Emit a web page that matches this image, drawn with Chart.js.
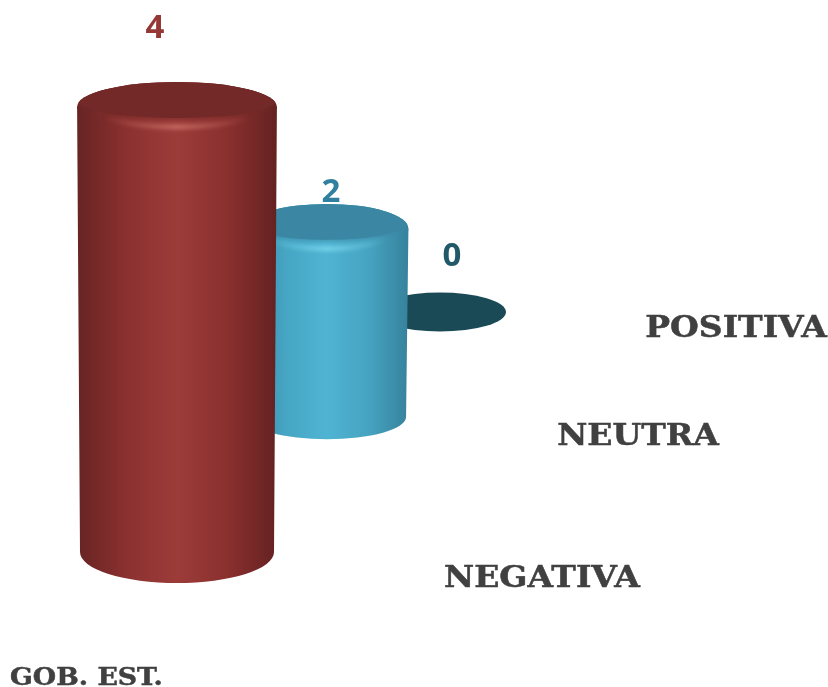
<!DOCTYPE html>
<html lang="es">
<head>
<meta charset="utf-8">
<title>GOB. EST.</title>
<script src="https://cdn.jsdelivr.net/npm/chart.js@4/dist/chart.umd.min.js"></script>
<style>
    html, body { margin: 0; padding: 0; background: #fff; overflow: hidden; }
    #wrap { width: 828px; height: 687px; }
</style>
</head>
<body>
<div id="wrap"><canvas id="cylinderChart" width="828" height="687"></canvas></div>
<script>
// ========================================
// DATA
// ========================================

const groupLabel = 'GOB. EST.';
const categories = ['NEGATIVA', 'NEUTRA', 'POSITIVA'];
const seriesValues = [4, 2, 0];

// ========================================
// 3D LOOK (one entry per depth row, front to back)
// ========================================

const depthShiftX = [0, -44, -125];
const depthShiftY = [0, -135, -240];
const depthWidth = [1, 0.815, 0.68];
const depthHeight = [1, 0.83, 0.7];
const baseRatio = [0.32, 0.28, 0.295];
const topRatio = [0.32, 0.39, 0.295];

const bodyColors = [
    ['#662423', '#8b3130', '#9c3c39', '#8a302f', '#642221'],
    ['#3a8aa6', '#46a6c4', '#4fb4d2', '#46a4c2', '#37829c'],
    ['#1b4a57', '#1b4a57', '#1b4a57', '#1b4a57', '#1b4a57']
];
const capColors = ['#722927', '#3a86a3', '#1b4a57'];
const glowColors = ['rgba(215,125,115,', 'rgba(135,225,245,', 'rgba(0,0,0,'];

const valueColors = ['#953735', '#31809f', '#215968'];
const valueOffsetX = [-22, 4, 12];
const valueOffsetY = [-75, -33, -46];
const labelOffsetX = [365, 311, 296];
const labelOffsetY = [35, 28, 25];

// ========================================
// CYLINDER DRAWING
// ========================================

function bodyGradient(ctx, cx, rx, colors) {
    const g = ctx.createLinearGradient(cx - rx, 0, cx + rx, 0);
    colors.forEach((c, i) => g.addColorStop(i / (colors.length - 1), c));
    return g;
}

function drawCylinder(ctx, cx, top, base, rx, ryTop, ryBase, i) {
    // value 0: only the flat disc is left
    if (base - top < 1) {
        ctx.fillStyle = capColors[i];
        ctx.beginPath();
        ctx.ellipse(cx, base, rx, ryBase, 0, 0, Math.PI * 2);
        ctx.fill();
        return;
    }

    const rimRx = rx * 1.03;
    const rimRy = ryTop * 0.8;
    const rimY = top - ryTop + rimRy;
    const wall = bodyGradient(ctx, cx, rimRx, bodyColors[i]);

    // side wall, very slightly tapered towards the base
    ctx.fillStyle = wall;
    ctx.beginPath();
    ctx.moveTo(cx - rimRx, rimY);
    ctx.lineTo(cx - rx, base);
    ctx.ellipse(cx, base, rx, ryBase, 0, Math.PI, 0, true);
    ctx.lineTo(cx + rimRx, rimY);
    ctx.closePath();
    ctx.fill();

    // bevelled rim
    ctx.save();
    ctx.beginPath();
    ctx.ellipse(cx, rimY, rimRx, rimRy, 0, 0, Math.PI * 2);
    ctx.fill();
    ctx.clip();

    // top face stays inside the rim, soft front edge only
    const capRy = ryTop * 0.58;
    const capY = top - ryTop + capRy;
    ctx.shadowColor = capColors[i];
    ctx.shadowBlur = 5;
    ctx.fillStyle = capColors[i];
    ctx.beginPath();
    ctx.ellipse(cx, capY, rimRx, capRy, 0, 0, Math.PI * 2);
    ctx.fill();
    ctx.restore();

    // highlight following the front of the rim
    const glow = ctx.createLinearGradient(cx - rx * 0.75, 0, cx + rx * 0.75, 0);
    glow.addColorStop(0, glowColors[i] + '0)');
    glow.addColorStop(0.5, glowColors[i] + '0.85)');
    glow.addColorStop(1, glowColors[i] + '0)');
    ctx.save();
    ctx.filter = 'blur(2px)';
    ctx.strokeStyle = glow;
    ctx.lineWidth = 4;
    ctx.beginPath();
    ctx.ellipse(cx, capY, rx, top + ryTop * 0.45 - capY, 0, 0, Math.PI);
    ctx.stroke();
    ctx.restore();
}

// slab labels are wider than DejaVu Serif, so stretch them a little
function drawSlabText(ctx, text, x, y, size, stretch, align) {
    ctx.save();
    ctx.translate(x, y);
    ctx.scale(stretch, 1);
    ctx.textAlign = align;
    ctx.textBaseline = 'alphabetic';
    ctx.font = "bold " + size + "px 'DejaVu Serif', serif";
    ctx.fillStyle = '#404040';
    ctx.strokeStyle = '#404040';
    ctx.lineWidth = 0.5;
    ctx.fillText(text, 0, 0);
    ctx.strokeText(text, 0, 0);
    ctx.restore();
}

// ========================================
// PLUGIN: turns the library's bars into cylinders
// ========================================

const cylinderPlugin = {
    id: 'cylinders',
    beforeDatasetDraw(chart, args) {
        const ctx = chart.ctx;
        const bars = chart.getDatasetMeta(args.index).data;

        // back row first so the front cylinder covers it
        for (let i = bars.length - 1; i >= 0; i--) {
            const bar = bars[i];
            const cx = bar.x + depthShiftX[i];
            const base = bar.base + depthShiftY[i];
            const top = base - (bar.base - bar.y) * depthHeight[i];
            const rx = bar.width / 2 * depthWidth[i];
            drawCylinder(ctx, cx, top, base, rx, rx * topRatio[i], rx * baseRatio[i], i);

            ctx.textAlign = 'center';
            ctx.textBaseline = 'alphabetic';
            ctx.fillStyle = valueColors[i];
            ctx.font = "bold 33px 'Open Sans', sans-serif";
            ctx.fillText(String(seriesValues[i]), cx + valueOffsetX[i], top + valueOffsetY[i]);

            drawSlabText(ctx, categories[i], cx + labelOffsetX[i], base + labelOffsetY[i], 30, 1.1, 'center');
        }

        drawSlabText(ctx, groupLabel, 10, 685, 25, 1.07, 'left');
        return false;
    }
};

// ========================================
// CHART
// ========================================

new Chart(document.getElementById('cylinderChart'), {
    type: 'bar',
    data: {
        labels: categories,
        datasets: [{
            label: groupLabel,
            data: seriesValues,
            backgroundColor: valueColors,
            barPercentage: 1,
            categoryPercentage: 1
        }]
    },
    options: {
        responsive: false,
        animation: false,
        layout: { padding: { left: 80, right: 166, top: 113, bottom: 135 } },
        plugins: { legend: { display: false }, tooltip: { enabled: false } },
        scales: {
            x: { display: false },
            y: { display: false, min: 0, max: 4 }
        }
    },
    plugins: [cylinderPlugin]
});
</script>
</body>
</html>
